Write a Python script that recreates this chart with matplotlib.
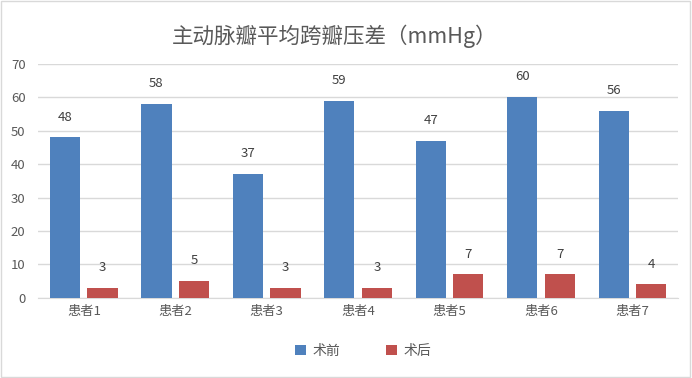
import numpy as np
import matplotlib.pyplot as plt
from matplotlib.patches import Rectangle

plt.rcParams['font.family'] = ['Noto Sans CJK SC', 'DejaVu Sans']

categories = ["患者1", "患者2", "患者3", "患者4", "患者5", "患者6", "患者7"]
before = [48, 58, 37, 59, 47, 60, 56]
after = [3, 5, 3, 3, 7, 7, 4]
series_names = ["术前", "术后"]

blue = "#4F81BD"
red = "#C0504D"
txt = "#595959"

fig = plt.figure(figsize=(6.92, 3.78), dpi=100)
ax = fig.add_axes([0.055, 0.212, 0.925, 0.619])

x = np.arange(len(categories))
w = 0.33
b1 = ax.bar(x - 0.205, before, w, color=blue, label=series_names[0], zorder=3)
b2 = ax.bar(x + 0.205, after, w, color=red, label=series_names[1], zorder=3)

for bars in (b1, b2):
    for r in bars:
        ax.annotate(str(int(r.get_height())), (r.get_x() + r.get_width() / 2, r.get_height()),
                    xytext=(0, 10), textcoords="offset points", ha="center", va="bottom",
                    fontsize=9.5, color="#404040")

ax.set_xlim(-0.5, len(categories) - 0.5)
ax.set_ylim(0, 70)
ax.set_yticks(range(0, 71, 10))
ax.set_xticks(x)
ax.set_xticklabels(categories)
ax.tick_params(axis="both", length=0, labelsize=9.5, colors=txt)
ax.tick_params(axis="y", pad=9)
ax.tick_params(axis="x", pad=5)
ax.grid(axis="y", color="#D9D9D9", linewidth=1, zorder=0)
for s in ["left", "right", "top"]:
    ax.spines[s].set_visible(False)
ax.spines["bottom"].set_color("#D9D9D9")

fig.suptitle("主动脉瓣平均跨瓣压差（mmHg）", x=0.484, y=0.935, fontsize=15.5, color=txt)

fig.legend(loc="center", bbox_to_anchor=(0.525, 0.072), ncol=2, frameon=False,
           fontsize=10, handlelength=0.75, handleheight=0.75, handletextpad=0.5,
           columnspacing=3.3, labelcolor=txt)

fig.patches.append(Rectangle((0.002, 0.003), 0.995, 0.994, transform=fig.transFigure,
                             fill=False, edgecolor="#D9D9D9", linewidth=1))

fig.savefig("out.png", dpi=100)
